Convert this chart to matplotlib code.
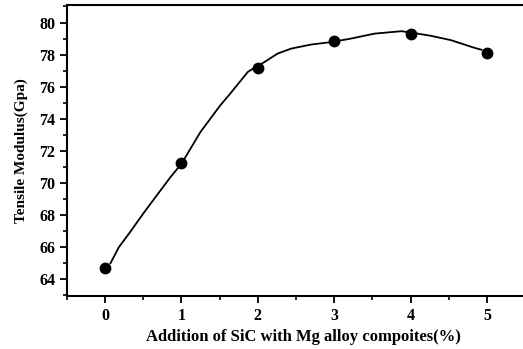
import numpy as np
import matplotlib.pyplot as plt
from matplotlib.ticker import MultipleLocator

# Messpunkte
sic_pct = [0, 1, 2, 3, 4, 5]
modulus = [64.68, 71.22, 77.18, 78.84, 79.29, 78.13]

# geglättete Kurve
curve_x = [0.07, 0.18, 0.33, 0.50, 0.68, 0.86, 1.00, 1.25, 1.51, 1.64, 1.87,
           2.09, 2.26, 2.44, 2.70, 2.96, 3.22, 3.53, 3.88, 4.00, 4.27, 4.53,
           4.84, 4.93]
curve_y = [65.00, 66.00, 66.96, 68.10, 69.25, 70.39, 71.20, 73.19, 74.85,
           75.58, 76.93, 77.55, 78.07, 78.38, 78.63, 78.78, 79.00, 79.31,
           79.46, 79.38, 79.17, 78.90, 78.42, 78.30]

plt.rcParams['font.family'] = ['Liberation Serif', 'DejaVu Serif']
plt.rcParams['font.weight'] = 'bold'

fig = plt.figure(figsize=(5.23, 3.49), dpi=100)
ax = fig.add_axes([0.128, 0.152, 0.876, 0.834])

ax.plot(curve_x, curve_y, color='black', lw=1.3)
ax.plot(sic_pct, modulus, 'o', color='black', ms=7.5)

ax.set_xlim(-0.5, 5.5)
ax.set_ylim(62.96, 81.1)
ax.set_xticks(sic_pct)
ax.set_yticks(np.arange(64, 81, 2))
ax.xaxis.set_minor_locator(MultipleLocator(0.5))
ax.yaxis.set_minor_locator(MultipleLocator(1))
ax.tick_params(which='major', direction='out', length=5, width=1.3, labelsize=11.5)
ax.tick_params(which='minor', direction='out', length=3, width=1.2)
for s in ax.spines.values():
    s.set_linewidth(1.5)

ax.set_xlabel('Addition of SiC with Mg alloy compoites(%)', fontsize=12,
              fontweight='bold', va='center')
ax.xaxis.set_label_coords(0.516, -0.142)
ax.set_ylabel('Tensile Modulus(Gpa)', fontsize=11, fontweight='bold', labelpad=8)

fig.savefig('out.png', dpi=100)
